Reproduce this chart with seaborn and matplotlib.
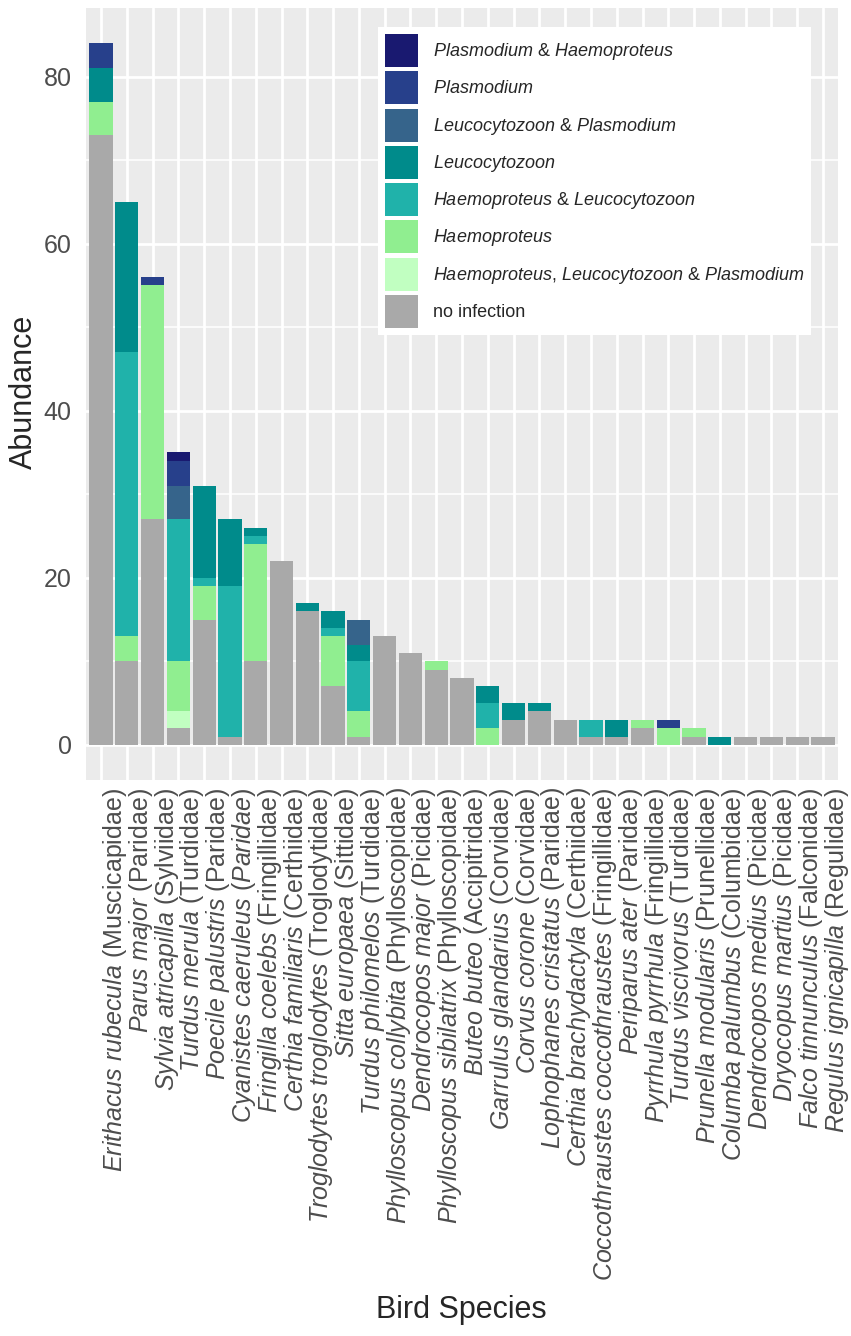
import matplotlib
matplotlib.use("Agg")
import matplotlib.pyplot as plt
from matplotlib.patches import Patch
from matplotlib.ticker import MultipleLocator
import pandas as pd
import seaborn as sns

# species in plot order, with their family
species = [
    "Erithacus rubecula", "Parus major", "Sylvia atricapilla", "Turdus merula",
    "Poecile palustris", "Cyanistes caeruleus", "Fringilla coelebs",
    "Certhia familiaris", "Troglodytes troglodytes", "Sitta europaea",
    "Turdus philomelos", "Phylloscopus collybita", "Dendrocopos major",
    "Phylloscopus sibilatrix", "Buteo buteo", "Garrulus glandarius",
    "Corvus corone", "Lophophanes cristatus", "Certhia brachydactyla",
    "Coccothraustes coccothraustes", "Periparus ater", "Pyrrhula pyrrhula",
    "Turdus viscivorus", "Prunella modularis", "Columba palumbus",
    "Dendrocopos medius", "Dryocopus martius", "Falco tinnunculus",
    "Regulus ignicapilla",
]
families = [
    "Muscicapidae", "Paridae", "Sylviidae", "Turdidae", "Paridae", "Paridae",
    "Fringillidae", "Certhiidae", "Troglodytidae", "Sittidae", "Turdidae",
    "Phylloscopidae", "Picidae", "Phylloscopidae", "Accipitridae", "Corvidae",
    "Corvidae", "Paridae", "Certhiidae", "Fringillidae", "Paridae",
    "Fringillidae", "Turdidae", "Prunellidae", "Columbidae", "Picidae",
    "Picidae", "Falconidae", "Regulidae",
]
# family name printed in italics on this one label
italic_family = ["Cyanistes caeruleus"]

# infection categories, legend order (top of stack first)
infections = [
    "Plasmodium & Haemoproteus", "Plasmodium", "Leucocytozoon & Plasmodium",
    "Leucocytozoon", "Haemoproteus & Leucocytozoon", "Haemoproteus",
    "Haemoproteus, Leucocytozoon & Plasmodium", "no infection",
]
legend_labels = [
    r"$\mathit{Plasmodium}$ & $\mathit{Haemoproteus}$",
    r"$\mathit{Plasmodium}$",
    r"$\mathit{Leucocytozoon}$ & $\mathit{Plasmodium}$",
    r"$\mathit{Leucocytozoon}$",
    r"$\mathit{Haemoproteus}$ & $\mathit{Leucocytozoon}$",
    r"$\mathit{Haemoproteus}$",
    r"$\mathit{Haemoproteus}$, $\mathit{Leucocytozoon}$ & $\mathit{Plasmodium}$",
    "no infection",
]
colors = ["#191970", "#27408B", "#36648B", "#008B8B", "#20B2AA", "#90EE90",
          "#C1FFC1", "#A9A9A9"]

# abundance per species for each infection category
plas_haem = [0, 0, 0, 1, 0, 0, 0, 0, 0, 0, 0, 0, 0, 0, 0, 0, 0, 0, 0, 0, 0, 0, 0, 0, 0, 0, 0, 0, 0]
plas = [3, 0, 1, 3, 0, 0, 0, 0, 0, 0, 0, 0, 0, 0, 0, 0, 0, 0, 0, 0, 0, 0, 1, 0, 0, 0, 0, 0, 0]
leuc_plas = [0, 0, 0, 4, 0, 0, 0, 0, 0, 0, 3, 0, 0, 0, 0, 0, 0, 0, 0, 0, 0, 0, 0, 0, 0, 0, 0, 0, 0]
leuc = [4, 18, 0, 0, 11, 8, 1, 0, 1, 2, 2, 0, 0, 0, 0, 2, 2, 1, 0, 0, 2, 0, 0, 0, 1, 0, 0, 0, 0]
haem_leuc = [0, 34, 0, 17, 1, 18, 1, 0, 0, 1, 6, 0, 0, 0, 0, 3, 0, 0, 0, 2, 0, 0, 0, 0, 0, 0, 0, 0, 0]
haem = [4, 3, 28, 6, 4, 0, 14, 0, 0, 6, 3, 0, 0, 1, 0, 2, 0, 0, 0, 0, 0, 1, 2, 1, 0, 0, 0, 0, 0]
haem_leuc_plas = [0, 0, 0, 2, 0, 0, 0, 0, 0, 0, 0, 0, 0, 0, 0, 0, 0, 0, 0, 0, 0, 0, 0, 0, 0, 0, 0, 0, 0]
no_inf = [73, 10, 27, 2, 15, 1, 10, 22, 16, 7, 1, 13, 11, 9, 8, 0, 3, 4, 3, 1, 1, 2, 0, 1, 0, 1, 1, 1, 1]

series = [plas_haem, plas, leuc_plas, leuc, haem_leuc, haem, haem_leuc_plas, no_inf]

rows = []
for inf, vals in zip(infections, series):
    for i, v in enumerate(vals):
        rows.append({"pos": i, "infection": inf, "count": v})
df = pd.DataFrame(rows)
palette = dict(zip(infections, colors))


def make_label(name, fam):
    genus, epithet = name.split(" ")
    if name in italic_family:
        return r"$\mathit{%s}$ $\mathit{%s}$ $\mathit{(%s)}$" % (genus, epithet, fam)
    return r"$\mathit{%s}$ $\mathit{%s}$ (%s)" % (genus, epithet, fam)


tick_labels = [make_label(s, f) for s, f in zip(species, families)]

sns.set_theme(style="darkgrid", rc={"axes.facecolor": "#EBEBEB", "grid.color": "white"})
plt.rcParams["font.family"] = ["Liberation Sans", "DejaVu Sans"]
plt.rcParams["mathtext.fontset"] = "custom"
plt.rcParams["mathtext.rm"] = "Liberation Sans"
plt.rcParams["mathtext.it"] = "Liberation Sans:italic"

fig = plt.figure(figsize=(8.51, 13.36), dpi=100)
ax = fig.add_axes([0.1005, 0.4162, 0.8848, 0.5778])

sns.histplot(data=df, x="pos", weights="count", hue="infection",
             hue_order=infections, palette=palette, multiple="stack",
             discrete=True, shrink=0.9, linewidth=0, alpha=1, legend=False, ax=ax)

ax.set_xlim(-0.6, len(species) - 0.4)
ax.set_ylim(-4.2, 88.2)
ax.set_xticks(range(len(species)))
ax.set_xticklabels(tick_labels, rotation=90, fontsize=18, color="#4D4D4D",
                   ha="left", va="top")
ax.set_yticks([0, 20, 40, 60, 80])
ax.set_yticklabels(["0", "20", "40", "60", "80"], fontsize=18, color="#4D4D4D")
ax.yaxis.set_minor_locator(MultipleLocator(10))
ax.grid(which="major", color="white", linewidth=2)
ax.grid(which="minor", axis="y", color="white", linewidth=1.1)
ax.tick_params(which="major", length=5, width=1.4, color="#333333")
ax.tick_params(axis="x", which="major", pad=0.5)
ax.tick_params(axis="y", which="major", pad=5)
ax.tick_params(which="minor", length=0)
for sp in ax.spines.values():
    sp.set_visible(False)
ax.set_xlabel("")
ax.set_ylabel("")

fig.text(24 / 851, 1 - 392 / 1336, "Abundance", rotation=90, ha="center",
         va="center", fontsize=22)
fig.text(461.5 / 851, 1 - 1318 / 1336, "Bird Species", ha="center",
         va="baseline", fontsize=22)

handles = [Patch(facecolor=c, edgecolor="none", label=l)
           for c, l in zip(colors, legend_labels)]
ax.legend(handles=handles, loc="upper left", bbox_to_anchor=(0.3884, 0.9754),
          borderaxespad=0, fontsize=13, handlelength=1.83, handleheight=2.43,
          labelspacing=0.24, handletextpad=0.83, borderpad=0.39, frameon=True,
          facecolor="white", edgecolor="none", framealpha=1, fancybox=False)

fig.savefig("out.png", dpi=100)
